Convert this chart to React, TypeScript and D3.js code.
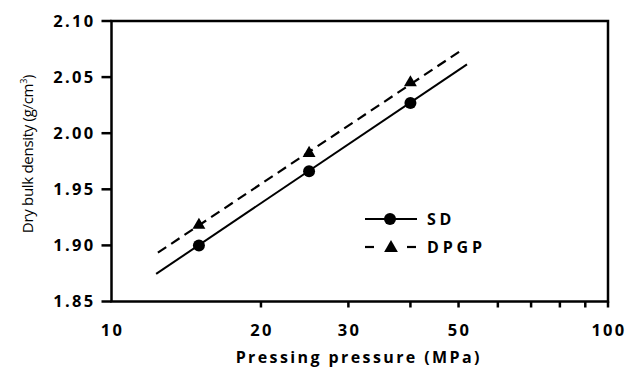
import * as d3 from "d3";

// measured points
const pressure = [15, 25, 40];
const sdDensity = [1.9, 1.966, 2.027];
const dpgpDensity = [1.919, 1.983, 2.046];

// fitted line end points
const sdFitX = [12.3, 52];
const sdFitY = [1.8746, 2.0614];
const dpgpFitX = [12.4, 50.4];
const dpgpFitY = [1.8935, 2.0732];

const yTicks = [1.85, 1.9, 1.95, 2.0, 2.05, 2.1];
const xTicks = [20, 30, 40, 50, 60, 70, 80, 90, 100];
const xLabels = [10, 20, 30, 50, 100];

const W = 627;
const H = 367;
const m = { left: 111.5, right: 19, top: 21, bottom: 65.5 };
const FONT = "'Open Sans', 'DejaVu Sans', sans-serif";

export default function App() {
  const x = d3.scaleLog().domain([10, 100]).range([m.left, W - m.right]);
  const y = d3.scaleLinear().domain([1.85, 2.1]).range([H - m.bottom, m.top]);
  const line = d3
    .line<[number, number]>()
    .x((d) => x(d[0]))
    .y((d) => y(d[1]));

  const sdFit = sdFitX.map((v, i) => [v, sdFitY[i]] as [number, number]);
  const dpgpFit = dpgpFitX.map((v, i) => [v, dpgpFitY[i]] as [number, number]);
  const tri = d3.symbol(d3.symbolTriangle, 72)();
  const triLegend = d3.symbol(d3.symbolTriangle, 82)();

  const x0 = x.range()[0];
  const x1 = x.range()[1];
  const y0 = y.range()[0];
  const y1 = y.range()[1];

  // legend
  const lgX = 365;
  const lgY = 219;

  return (
    <svg
      width={W}
      height={H}
      style={{ position: "absolute", left: 0, top: 0, background: "#fff" }}
    >
      {/* fits */}
      <path d={line(sdFit) ?? ""} fill="none" stroke="#000" strokeWidth={2} />
      <path
        d={line(dpgpFit) ?? ""}
        fill="none"
        stroke="#000"
        strokeWidth={2.2}
        strokeDasharray="10 6"
      />

      {/* markers */}
      {pressure.map((p, i) => (
        <circle key={`sd-${p}`} cx={x(p)} cy={y(sdDensity[i])} r={6} fill="#000" />
      ))}
      {pressure.map((p, i) => (
        <path
          key={`dp-${p}`}
          d={tri ?? ""}
          transform={`translate(${x(p)},${y(dpgpDensity[i]) + 1})`}
          fill="#000"
        />
      ))}

      {/* frame */}
      <rect
        x={x0}
        y={y1}
        width={x1 - x0}
        height={y0 - y1}
        fill="none"
        stroke="#000"
        strokeWidth={2.5}
      />

      {/* y ticks */}
      {yTicks.map((t) => (
        <g key={`yt-${t}`}>
          <line x1={x0 - 10} x2={x0} y1={y(t)} y2={y(t)} stroke="#000" strokeWidth={2.5} />
          <text
            x={x0 - 16}
            y={y(t)}
            dy="0.36em"
            textAnchor="end"
            fontFamily={FONT}
            fontWeight="bold"
            fontSize={16.5}
            letterSpacing={2.3}
          >
            {t.toFixed(2)}
          </text>
        </g>
      ))}

      {/* x ticks */}
      {xTicks.map((t) => (
        <line
          key={`xt-${t}`}
          x1={x(t)}
          x2={x(t)}
          y1={y0}
          y2={y0 + 6}
          stroke="#000"
          strokeWidth={2.5}
        />
      ))}
      {xLabels.map((t) => (
        <text
          key={`xl-${t}`}
          x={x(t) + 1}
          y={y0 + 34}
          textAnchor="middle"
          fontFamily={FONT}
          fontWeight="bold"
          fontSize={16.5}
          letterSpacing={2.3}
        >
          {t}
        </text>
      ))}

      {/* axis titles */}
      <text
        x={(x0 + x1) / 2 - 1}
        y={H - 4}
        textAnchor="middle"
        fontFamily={FONT}
        fontWeight="bold"
        fontSize={16}
        letterSpacing={2.4}
      >
        Pressing pressure (MPa)
      </text>
      <text
        transform={`translate(33, 154) rotate(-90)`}
        textAnchor="middle"
        fontFamily={FONT}
        fontSize={15}
        letterSpacing={-0.3}
      >
        Dry bulk density (g/cm
        <tspan fontSize={9} dy={-6}>
          3
        </tspan>
        <tspan dy={6}>)</tspan>
      </text>

      {/* legend */}
      <line x1={lgX} x2={lgX + 52} y1={lgY} y2={lgY} stroke="#000" strokeWidth={2} />
      <circle cx={lgX + 25} cy={lgY} r={6} fill="#000" />
      <text
        x={lgX + 62}
        y={lgY}
        dy="0.36em"
        fontFamily={FONT}
        fontWeight="bold"
        fontSize={16}
        letterSpacing={3.8}
      >
        SD
      </text>
      <line x1={lgX} x2={lgX + 9} y1={lgY + 28} y2={lgY + 28} stroke="#000" strokeWidth={2.2} />
      <line
        x1={lgX + 42}
        x2={lgX + 51}
        y1={lgY + 28}
        y2={lgY + 28}
        stroke="#000"
        strokeWidth={2.2}
      />
      <path d={triLegend ?? ""} transform={`translate(${lgX + 26},${lgY + 29})`} fill="#000" />
      <text
        x={lgX + 62}
        y={lgY + 28}
        dy="0.36em"
        fontFamily={FONT}
        fontWeight="bold"
        fontSize={16}
        letterSpacing={3.8}
      >
        DPGP
      </text>
    </svg>
  );
}
